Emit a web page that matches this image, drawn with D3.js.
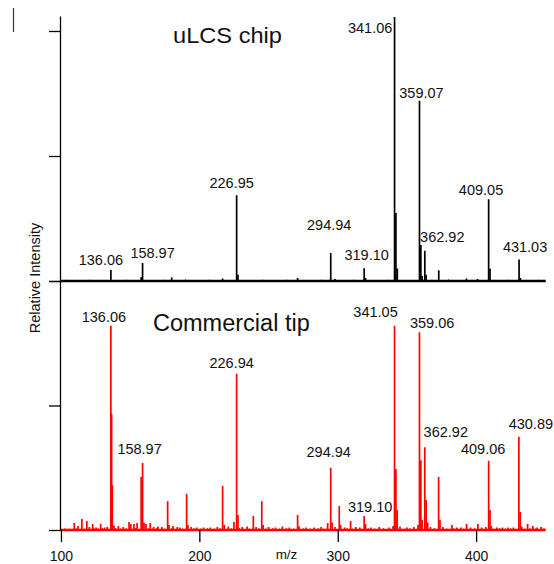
<!DOCTYPE html>
<html>
<head>
<meta charset="utf-8">
<script src="https://cdn.jsdelivr.net/npm/d3@7"></script>
<style>
  html, body { margin: 0; padding: 0; background: #fff; }
  svg text { font-family: "Liberation Sans", Arial, sans-serif; fill: #111; }
</style>
</head>
<body>
<svg id="chart" width="554" height="564"></svg>
<script>
// m/z tick labels
var xTicks = [100, 200, 300, 400];

// uLCS chip spectrum: [m/z, relative intensity %]
var chipPeaks = [
  [136.06, 4.4], [158.0, 1.6], [158.97, 7.2], [180.0, 1.4], [216.8, 1.0],
  [226.95, 34.3], [227.9, 2.5], [271.0, 1.2], [294.94, 11.2], [298.0, 0.8],
  [319.10, 5.1], [320.1, 1.2], [341.06, 105.6], [342.06, 27.2], [343.05, 5],
  [359.07, 72.1], [360.07, 14.4], [361.0, 2], [362.92, 12.1], [363.9, 2.5],
  [373.0, 4.3], [393.0, 1], [401.0, 0.8], [409.05, 32.7], [410.05, 5],
  [431.03, 8.6], [432.0, 1.2]
];
var chipNoise = [
  [104, 0.5], [112, 0.4], [121, 0.5], [128, 0.4], [147, 0.5], [166, 0.4],
  [174, 0.5], [190, 0.6], [199, 0.4], [207, 0.5], [238, 0.4], [246, 0.5],
  [255, 0.4], [263, 0.5], [281, 0.4], [288, 0.5], [306, 0.4], [312, 0.5],
  [329, 0.4], [336, 0.5], [350, 0.4], [368, 0.5], [380, 0.6], [386, 0.4],
  [397, 0.5], [417, 0.4], [423, 0.5], [438, 0.4], [445, 0.5]
];
var chipLabels = ["136.06", "158.97", "226.95", "294.94", "319.10",
                  "341.06", "359.07", "362.92", "409.05", "431.03"];
var chipLabelDx = [-10, 10, -5, -1.5, 2.5, -24.4, 2, 17.5, -7.6, 6];
var chipLabelDy = [-5, -5, -7, -23, -8, 16, -3, -9, -4.3, -8];

// Commercial tip spectrum: [m/z, relative intensity %]
var tipPeaks = [
  [109.6, 2.8], [112.3, 1.6], [115.1, 4.4], [118.7, 3.6], [120.5, 1.2],
  [122.9, 2.4], [125.5, 1.0], [128.7, 2.4], [131.5, 1.0], [133.5, 1.2],
  [136.06, 82.0], [136.6, 46.6], [137.1, 18], [138.3, 1.8], [141.5, 1.6],
  [145, 1.2], [149.2, 3.2], [150.5, 2.4], [152.7, 2.4], [155.0, 2.8],
  [157.97, 21.3], [158.97, 26.9], [160.0, 3], [161.4, 2.4], [164.5, 2.8],
  [167, 1.2], [170, 1.4], [173, 1.2], [177.1, 11.6], [178.1, 2],
  [181, 1.6], [184, 1.2], [186, 1], [190.8, 14.5], [191.8, 2],
  [194, 1.2], [198, 1], [203, 1], [208, 1], [213, 1.2],
  [216.8, 17.7], [218, 2], [221, 1.4], [225, 3.2], [226.94, 62.7],
  [227.9, 6], [231, 1.2], [234.5, 1.4], [239, 5.6], [241, 1.2],
  [245.1, 11.6], [246.1, 2], [250, 1.2], [255, 1], [260, 1.4],
  [265, 1], [271, 6], [272, 1.5], [277, 1], [283, 1],
  [288, 1.2], [292.7, 2.8], [294.94, 25.0], [295.9, 3], [298, 1.2],
  [301.1, 9.6], [302.1, 2], [305, 1], [309.3, 3.6], [313, 1.2],
  [316, 1], [319.10, 5.6], [320.1, 2.4], [324, 1], [330, 1.2],
  [337, 1], [340, 1.6], [341.05, 82.0], [342.05, 24.5], [343.0, 8],
  [345, 1.4], [350, 1], [355, 1.2], [358, 2], [359.06, 79.4],
  [360.06, 28], [361, 4], [362.92, 33.2], [363.9, 12], [365, 3],
  [367, 1.2], [372.9, 21.3], [373.9, 4], [376, 1.2], [382.5, 2],
  [386, 1], [389, 1], [393.1, 2.4], [396, 1], [401.3, 2.4],
  [404, 1], [407, 1.2], [409.06, 27.8], [410.06, 8], [411, 1.6],
  [415, 1], [419, 1], [423, 1], [427, 1], [430.89, 37.5],
  [431.9, 7.2], [433, 1.4], [437.2, 2.4], [441, 1.6], [444, 1], [447, 1.2]
];
var tipNoise = [
  [103, 0.8], [106, 0.6], [111, 0.8], [117, 0.6], [124, 0.8], [127, 0.6],
  [130, 0.8], [139.5, 0.8], [143, 0.6], [147, 0.8], [153.8, 0.8], [163, 0.8],
  [166, 0.6], [169, 0.8], [175, 0.6], [180, 0.8], [188, 0.6], [196, 0.8],
  [201, 0.6], [206, 0.8], [211, 0.6], [215, 0.8], [223, 0.8], [229, 0.8],
  [236, 0.6], [243, 0.8], [248, 0.6], [253, 0.8], [258, 0.6], [263, 0.8],
  [268, 0.6], [275, 0.8], [280, 0.6], [286, 0.8], [290, 0.6], [307, 0.8],
  [311, 0.6], [322, 0.8], [327, 0.6], [333, 0.8], [348, 0.6], [352, 0.8],
  [370, 0.8], [379, 0.6], [384, 0.8], [391, 0.6], [399, 0.8], [413, 0.6],
  [417, 0.8], [421, 0.6], [425, 0.8], [435, 0.6], [439, 0.8], [443, 0.6], [449, 0.8]
];
var tipLabels = ["136.06", "158.97", "226.94", "294.94", "319.10",
                 "341.05", "359.06", "362.92", "409.06", "430.89"];
var tipLabelDx = [-7, -3, -5, -2, 6, -19, 12.7, 21, -5.5, 12];
var tipLabelDy = [-4, -9, -6, -11, -4, -9, -4, -10.6, -6.7, -7.7];

var svg = d3.select("#chart");

var x = d3.scaleLinear().domain([99.3, 450.5]).range([60, 546]);
var yChip = d3.scaleLinear().domain([0, 106]).range([281, 16]);
var yTip = d3.scaleLinear().domain([0, 100]).range([530, 281]);

// little mark in the corner
svg.append("line")
  .attr("x1", 13.5).attr("x2", 13.5).attr("y1", 8).attr("y2", 32)
  .attr("stroke", "#333").attr("stroke-width", 1.2);

function drawSpectrum(peaks, noise, y, color) {
  var g = svg.append("g");
  g.selectAll("line.noise").data(noise).enter().append("line")
    .attr("class", "noise")
    .attr("x1", function(d) { return x(d[0]); })
    .attr("x2", function(d) { return x(d[0]); })
    .attr("y1", y(0))
    .attr("y2", function(d) { return y(d[1]); })
    .attr("stroke", color).attr("stroke-width", 1);
  g.selectAll("line.peak").data(peaks).enter().append("line")
    .attr("class", "peak")
    .attr("x1", function(d) { return x(d[0]); })
    .attr("x2", function(d) { return x(d[0]); })
    .attr("y1", y(0))
    .attr("y2", function(d) { return y(d[1]); })
    .attr("stroke", color).attr("stroke-width", 1.7);
  g.append("line")
    .attr("x1", x(99.3)).attr("x2", x(450.3))
    .attr("y1", y(0)).attr("y2", y(0))
    .attr("stroke", color).attr("stroke-width", 2.4);
}

function drawLabels(peaks, labels, dxs, dys, y) {
  labels.forEach(function(t, i) {
    var mz = +t;
    var p = peaks.find(function(d) { return d[0] === mz; });
    svg.append("text")
      .attr("x", x(mz) + dxs[i])
      .attr("y", y(p[1]) + dys[i])
      .attr("text-anchor", "middle")
      .style("font-size", "14.5px")
      .text(t);
  });
}

drawSpectrum(chipPeaks, chipNoise, yChip, "#000");
drawSpectrum(tipPeaks, tipNoise, yTip, "#ff0000");

// y axis (two stacked panels)
var axTop = svg.append("g").attr("transform", "translate(60,0)")
  .call(d3.axisLeft(yChip).tickValues([0, 50, 100]).tickSize(11).tickSizeOuter(0).tickFormat(""));
var axBot = svg.append("g").attr("transform", "translate(60,0)")
  .call(d3.axisLeft(yTip).tickValues([0, 50, 100]).tickSize(11).tickSizeOuter(0).tickFormat(""));
[axTop, axBot].forEach(function(a) {
  a.selectAll("path, line").attr("stroke", "#000").attr("stroke-width", 1.3);
});

// x axis
var axX = svg.append("g").attr("transform", "translate(0,530)")
  .call(d3.axisBottom(x).tickValues(xTicks).tickSize(12).tickSizeOuter(0).tickPadding(9));
axX.select(".domain").remove();
axX.selectAll("line").attr("stroke", "#000").attr("stroke-width", 1.3);
axX.selectAll("text")
  .style("font-size", "14px")
  .style("font-family", "'Liberation Sans', Arial, sans-serif")
  .attr("fill", "#111");

drawLabels(chipPeaks, chipLabels, chipLabelDx, chipLabelDy, yChip);
drawLabels(tipPeaks, tipLabels, tipLabelDx, tipLabelDy, yTip);

// panel titles
svg.append("text").attr("x", 173).attr("y", 42.5)
  .style("font-size", "22px")
  .attr("textLength", 109).attr("lengthAdjust", "spacingAndGlyphs")
  .text("uLCS chip");
svg.append("text").attr("x", 153).attr("y", 331)
  .style("font-size", "23.5px")
  .text("Commercial tip");

// axis titles
svg.append("text").attr("x", 286.5).attr("y", 559)
  .attr("text-anchor", "middle")
  .style("font-size", "13.5px")
  .text("m/z");
svg.append("text")
  .attr("transform", "translate(39.5,278) rotate(-90)")
  .attr("text-anchor", "middle")
  .style("font-size", "14.5px")
  .text("Relative Intensity");
</script>
</body>
</html>
